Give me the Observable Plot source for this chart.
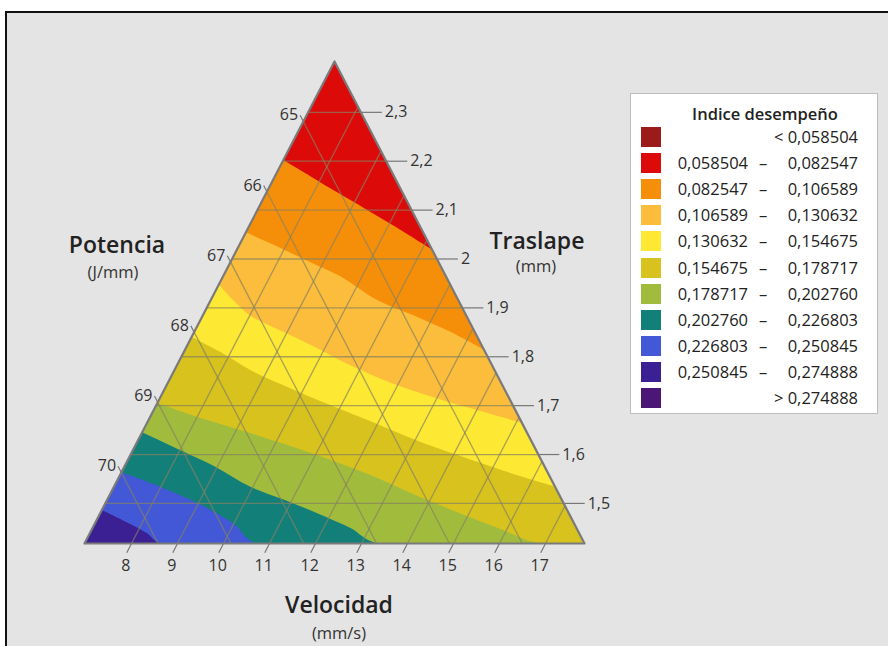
<!DOCTYPE html>
<html><head><meta charset="utf-8">
<script src="https://cdn.jsdelivr.net/npm/d3@7"></script>
<script src="https://cdn.jsdelivr.net/npm/@observablehq/plot@0.6"></script>
<style>
html,body{margin:0;padding:0;background:#fff;width:888px;height:646px;overflow:hidden;font-family:"Open Sans",sans-serif;}
#frame{position:absolute;left:5px;top:11px;width:900px;height:700px;border:2px solid #111;background:#e4e4e4;box-sizing:border-box;}
#chart{position:absolute;left:0;top:0;}
.lbl{position:absolute;color:#222;white-space:nowrap;transform:translate(-50%,-50%);line-height:1;}
.ttl{font-size:23px;font-weight:600;}
.sub{font-size:16.5px;color:#333;}
#legend{position:absolute;left:630px;top:93px;width:248px;height:321px;background:#fff;border:1px solid #bdbdbd;box-sizing:border-box;font-size:16.5px;color:#222;}
#legend div{position:absolute;white-space:nowrap;line-height:1;}
</style></head><body>
<div id="frame"></div>
<div id="chart"></div>
<div id="legend"></div>
<div class="lbl ttl" style="left:117px;top:244px">Potencia</div>
<div class="lbl sub" style="left:113px;top:272px">(J/mm)</div>
<div class="lbl ttl" style="left:537px;top:240px">Traslape</div>
<div class="lbl sub" style="left:536px;top:266px">(mm)</div>
<div class="lbl ttl" style="left:339px;top:604px">Velocidad</div>
<div class="lbl sub" style="left:339px;top:633px">(mm/s)</div>
<script>
// ---- data ----
const traslapeEscala = [1.418, 2.404];   // Traslape (mm): bottom edge -> top vertex
const potenciaEscala = [64.145, 71.011]; // Potencia (J/mm): top -> bottom-left vertex
const velocidadEscala = [6.978, 17.848]; // Velocidad (mm/s): left -> bottom-right vertex
const traslapeTicks = [1.5, 1.6, 1.7, 1.8, 1.9, 2.0, 2.1, 2.2, 2.3];
const potenciaTicks = [65, 66, 67, 68, 69, 70];
const velocidadTicks = [8, 9, 10, 11, 12, 13, 14, 15, 16, 17];
const umbrales = [0.058504, 0.082547, 0.106589, 0.130632, 0.154675, 0.178717, 0.202760, 0.226803, 0.250845, 0.274888];
const colores = ["#9b1b1b", "#dd0a0a", "#f58f0a", "#fbbd3b", "#fde834", "#d7c21e", "#a1bc3d", "#127f79", "#4258d6", "#3b2094", "#4c1677"];
// contour boundaries as [Velocidad, Traslape] pairs
const borde_0_082547 = [[6.98,2.202],[7.75,2.169],[8.32,2.144],[9.27,2.104],[10.23,2.063],[11.24,2.018]];
const borde_0_106589 = [[6.98,2.054],[7.91,2.022],[8.72,1.993],[9.53,1.964],[10.61,1.915],[11.75,1.878],[12.56,1.850],[13.50,1.813]];
const borde_0_130632 = [[6.98,1.948],[7.48,1.915],[8.03,1.883],[8.93,1.850],[9.84,1.817],[10.75,1.782],[11.64,1.752],[12.59,1.725],[13.85,1.694],[15.14,1.664]];
const borde_0_154675 = [[6.98,1.840],[7.78,1.809],[8.64,1.772],[9.52,1.741],[10.43,1.711],[11.74,1.670],[13.14,1.625],[14.69,1.582],[15.70,1.555],[16.59,1.533]];
const borde_0_178717 = [[6.98,1.705],[8.09,1.674],[9.35,1.643],[11.05,1.598],[12.62,1.551],[13.76,1.512],[14.81,1.479],[15.86,1.447],[16.85,1.418]];
const borde_0_202760 = [[6.98,1.645],[8.02,1.608],[8.97,1.574],[9.96,1.533],[10.86,1.506],[11.71,1.479],[12.59,1.449],[13.33,1.418]];
const borde_0_226803 = [[6.98,1.563],[7.74,1.541],[8.52,1.516],[9.35,1.486],[10.06,1.455],[10.70,1.418]];
const borde_0_250845 = [[6.98,1.486],[7.71,1.459],[8.24,1.438],[8.63,1.418]];

// ---- ternary helpers ----
const tOf = T => (T - traslapeEscala[0]) / (traslapeEscala[1] - traslapeEscala[0]);
const vOf = V => (V - velocidadEscala[0]) / (velocidadEscala[1] - velocidadEscala[0]);
const pOf = P => (P - potenciaEscala[0]) / (potenciaEscala[1] - potenciaEscala[0]);
const XY = (v, t) => ({x: v + t / 2, y: t});
const fmt = v => String(v).replace(".", ",");
const mid = i => (umbrales[i - 1] + umbrales[i]) / 2;
const topY = tOf(traslapeEscala[1]);

// ---- band regions ----
const base = [[0,0],[1,0],[0,1]].map(([v,t]) => ({band: mid(9), ...XY(v,t)}));
const bordes = [
  [8, borde_0_250845], [7, borde_0_226803], [6, borde_0_202760], [5, borde_0_178717],
  [4, borde_0_154675], [3, borde_0_130632], [2, borde_0_106589], [1, borde_0_082547]
];
const bandMarks = bordes.map(([i, pts]) => {
  const d = pts.map(([V, T]) => ({band: mid(i), ...XY(vOf(V), tOf(T))}));
  if (d[d.length - 1].y < 0.003) d.push({band: mid(i), ...XY(1, 0)});
  return Plot.areaY(d, {x: "x", y1: "y", y2: () => topY, fill: "band", curve: "catmull-rom"});
});
// masks outside the triangle (background colour)
const maskL = [[0,0],[0.5,1],[0.51,1.04],[-0.14,1.04],[-0.14,-0.06],[1.15,-0.06],[1.15,0]].map(([x,y]) => ({x, y}));
const maskR = [[1,0],[0.5,1],[0.49,1.04],[1.15,1.04],[1.15,0]].map(([x,y]) => ({x, y}));

// ---- grid lines and ticks ----
const grid = [], ticks = [], labT = [], labP = [], labV = [];
for (const T of traslapeTicks) {
  const t = tOf(T), a = XY(0, t), b = XY(1 - t, t), c = XY(1 - t + 0.042, t);
  grid.push({x1: a.x, y1: a.y, x2: b.x, y2: b.y});
  ticks.push({x1: b.x, y1: b.y, x2: c.x, y2: c.y});
  labT.push({...c, text: fmt(T)});
}
for (const P of potenciaTicks) {
  const p = pOf(P), a = XY(0, 1 - p), b = XY(1 - p, 0), c = XY(-0.013, 1 - p + 0.013);
  grid.push({x1: a.x, y1: a.y, x2: b.x, y2: b.y});
  ticks.push({x1: a.x, y1: a.y, x2: c.x, y2: c.y});
  labP.push({...c, text: fmt(P)});
}
for (const V of velocidadTicks) {
  const v = vOf(V), a = XY(v, 0), b = XY(v, 1 - v), c = XY(v, -0.019);
  grid.push({x1: a.x, y1: a.y, x2: b.x, y2: b.y});
  ticks.push({x1: a.x, y1: a.y, x2: c.x, y2: c.y});
  labV.push({...c, text: fmt(V)});
}
const tri = [[0,0],[1,0],[0,1],[0,0]].map(([v,t]) => XY(v,t));

const chart = Plot.plot({
  width: 888, height: 646,
  x: {domain: [0, 1], range: [84, 584], axis: null},
  y: {domain: [0, 1], range: [543, 61], axis: null},
  color: {type: "threshold", domain: umbrales, range: colores},
  style: {background: "transparent", fontFamily: "Open Sans", overflow: "visible"},
  marks: [
    Plot.line(base, {x: "x", y: "y", fill: "band", stroke: "band", strokeWidth: 0.5}),
    ...bandMarks,
    Plot.line(maskL, {x: "x", y: "y", fill: "#e4e4e4", stroke: "#e4e4e4", strokeWidth: 0.5}),
    Plot.line(maskR, {x: "x", y: "y", fill: "#e4e4e4", stroke: "#e4e4e4", strokeWidth: 0.5}),
    Plot.link(grid, {x1: "x1", y1: "y1", x2: "x2", y2: "y2", stroke: "#86825f", strokeOpacity: 0.7, strokeWidth: 1.3}),
    Plot.link(ticks, {x1: "x1", y1: "y1", x2: "x2", y2: "y2", stroke: "#777", strokeWidth: 1.2}),
    Plot.line(tri, {x: "x", y: "y", stroke: "#7a7a7a", strokeWidth: 2.2}),
    Plot.text(labT, {x: "x", y: "y", text: "text", textAnchor: "start", dx: 3, fontSize: 16, fill: "#333"}),
    Plot.text(labP, {x: "x", y: "y", text: "text", textAnchor: "end", dx: -2, fontSize: 16, fill: "#333"}),
    Plot.text(labV, {x: "x", y: "y", text: "text", textAnchor: "middle", dx: -1, dy: 13, fontSize: 16, fill: "#333"})
  ]
});
document.getElementById("chart").appendChild(chart);

// ---- legend ----
const lg = document.getElementById("legend");
const f6 = v => d3.format(".6f")(v).replace(".", ",");
const title = document.createElement("div");
title.textContent = "Indice desempeño";
title.style.cssText = "left:134px;top:20px;transform:translate(-50%,-50%);font-weight:600;";
lg.appendChild(title);
colores.forEach((c, i) => {
  const cy = 136 + 26.1 * i - 93;
  const sw = document.createElement("div");
  sw.style.cssText = `left:10px;top:${cy - 10}px;width:20px;height:20px;background:${c};`;
  lg.appendChild(sw);
  const add = (txt, css) => { const d = document.createElement("div"); d.textContent = txt; d.style.cssText = css; lg.appendChild(d); };
  if (i === 0) add("< " + f6(umbrales[0]), `right:19px;top:${cy}px;transform:translateY(-50%);`);
  else if (i === colores.length - 1) add("> " + f6(umbrales[umbrales.length - 1]), `right:19px;top:${cy}px;transform:translateY(-50%);`);
  else {
    add(f6(umbrales[i - 1]), `right:129px;top:${cy}px;transform:translateY(-50%);`);
    add("–", `left:132px;top:${cy}px;transform:translate(-50%,-50%);`);
    add(f6(umbrales[i]), `right:19px;top:${cy}px;transform:translateY(-50%);`);
  }
});
</script>
</body></html>
